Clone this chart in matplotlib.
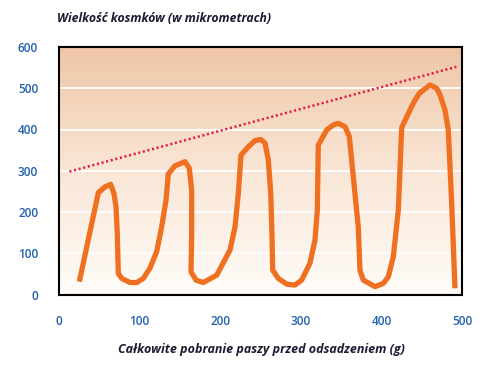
import numpy as np
import matplotlib
matplotlib.use("Agg")
import matplotlib.pyplot as plt
from matplotlib.colors import LinearSegmentedColormap

# dane
feed_x = [25.2, 48.8, 57.1, 64.1, 68.2, 70.7, 72.3, 73.6, 77.8, 88.1, 96.4, 104.6,
          112.9, 121.2, 127.4, 132.8, 135.6, 143.9, 156.3, 161.7, 164.6, 164.6, 163.8,
          170, 179, 195.7, 212.2, 218.4, 222.5, 225.8, 234.9, 243.2, 250.2, 255.6,
          259.7, 262.7, 264.3, 265.1, 272.1, 282.5, 292.8, 301.1, 311.4, 317.6, 320.5,
          321.7, 332.1, 340.3, 346.5, 354.8, 360.2, 365.1, 371.3, 373.4, 377.5, 392,
          402.4, 408.6, 414.8, 421, 425.2, 439.6, 447.1, 460.3, 468.6, 472.7, 478.9,
          483, 487.2, 491.3]
villi_y = [31, 247, 261, 267, 245, 213, 149, 51, 39, 29, 29, 39,
           64, 104, 164, 229, 292, 312, 322, 306, 253, 148, 55,
           35, 29, 47, 108, 164, 245, 338, 358, 373, 376, 367,
           326, 245, 140, 59, 39, 25, 23, 35, 76, 132, 205,
           362, 399, 411, 415, 407, 383, 286, 164, 59, 35, 19,
           27, 43, 92, 205, 405, 464, 488, 508, 500, 484, 447,
           399, 221, 15]
trend_x = [13, 493]
trend_y = [298, 552]

yticks = [0, 100, 200, 300, 400, 500, 600]
xticks = [0, 100, 200, 300, 400, 500]

title = "Wielkość kosmków (w mikrometrach)"
xlabel = "Całkowite pobranie paszy przed odsadzeniem (g)"

text_col = "#1b1b33"
tick_col = "#2160ad"
plt.rcParams['font.family'] = ['Open Sans', 'DejaVu Sans']

fig = plt.figure(figsize=(4.88, 3.71), dpi=100)
ax = fig.add_axes([59/488, 1 - 294.5/371, (462 - 59)/488, (294.5 - 47)/371])

# tlo z gradientem
cmap = LinearSegmentedColormap.from_list("bg", ["#fffcf8", "#f9e6d6", "#efc6a6"])
grad = np.linspace(0, 1, 256).reshape(-1, 1)
ax.imshow(grad, cmap=cmap, aspect="auto", origin="lower",
          extent=[0, 1, 0, 1], transform=ax.transAxes, zorder=0)

for yv in yticks[1:-1]:
    ax.axhline(yv, color="white", lw=1.3, zorder=1)

ax.plot(trend_x, trend_y, color="#e3163d", lw=1.8, linestyle=(0, (0.8, 1.1)), zorder=2)
ax.plot(feed_x, villi_y, color="#ef7020", lw=3.8, solid_joinstyle="round",
        solid_capstyle="butt", zorder=3)

ax.set_xlim(0, 500)
ax.set_ylim(0, 600)

ax.set_xticks(xticks)
ax.set_yticks(yticks)
ax.set_xticks(xticks[1:], minor=True)
ax.set_yticks(yticks[1:-1], minor=True)
ax.tick_params(which="major", length=0, labelsize=8.5, labelcolor=tick_col)
ax.tick_params(axis="x", which="major", pad=15)
ax.tick_params(axis="y", which="major", pad=15)
ax.tick_params(which="minor", length=7, width=1.3, color="black")
for lab in ax.get_xticklabels() + ax.get_yticklabels():
    lab.set_fontweight("semibold")

for sp in ax.spines.values():
    sp.set_linewidth(1.5)
    sp.set_color("black")

fig.text(57/488, 1 - 19/371, title, ha="left", va="center", fontsize=8.8,
         fontweight="bold", style="italic", color=text_col)
fig.text(261/488, 1 - 350/371, xlabel, ha="center", va="center", fontsize=9,
         fontweight="bold", style="italic", color=text_col)

fig.savefig("out.png", dpi=100)
